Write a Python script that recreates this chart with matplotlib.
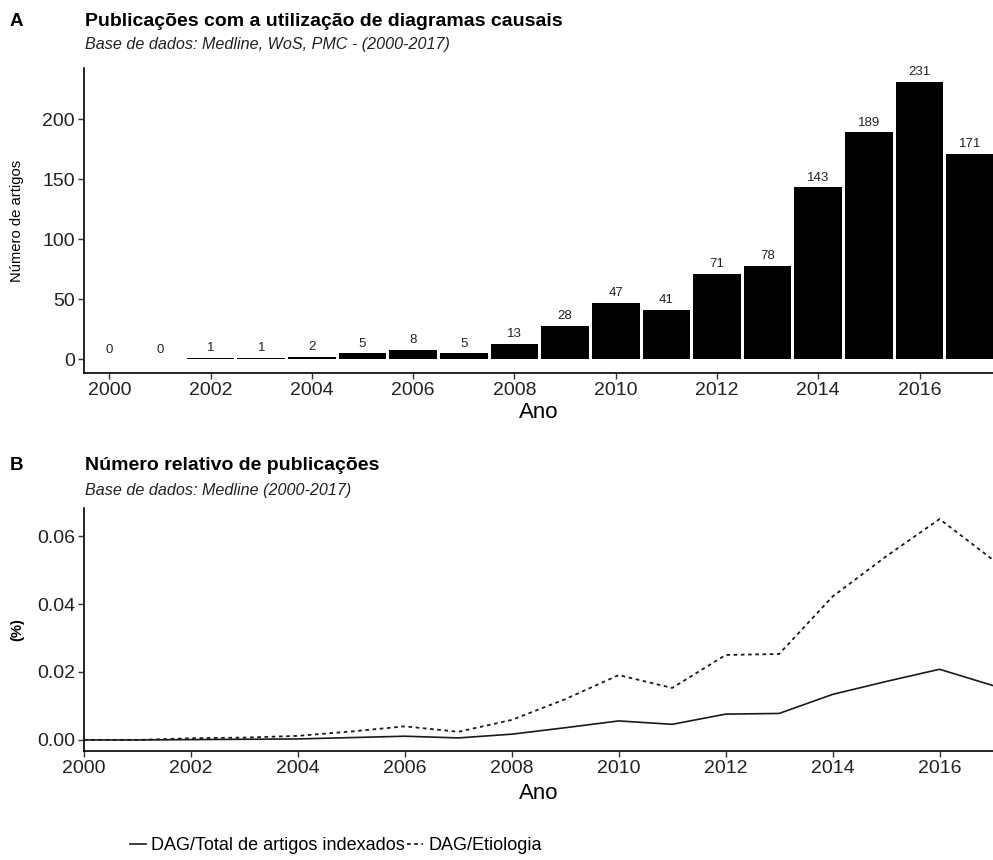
import matplotlib.pyplot as plt

plt.rcParams["font.family"] = ["Liberation Sans", "DejaVu Sans"]

anos = list(range(2000, 2018))
artigos = [0, 0, 1, 1, 2, 5, 8, 5, 13, 28, 47, 41, 71, 78, 143, 189, 231, 171]

# proporções relativas (Medline)
dag_total = [0.0, 0.0, 0.0001, 0.0002, 0.0003, 0.0007, 0.0011, 0.0006, 0.0017,
             0.0036, 0.0056, 0.0046, 0.0076, 0.0078, 0.0134, 0.0172, 0.0208, 0.0160]
dag_etiologia = [0.0, 0.0, 0.0005, 0.0007, 0.0012, 0.0025, 0.0040, 0.0024, 0.0059,
                 0.0120, 0.0191, 0.0153, 0.0250, 0.0253, 0.0422, 0.0540, 0.0650, 0.0530]

W, H = 993, 860
fig = plt.figure(figsize=(W / 100, H / 100), dpi=100)


def box(left, top, right, bottom):
    return [left / W, 1 - bottom / H, (right - left) / W, (bottom - top) / H]


def estilo(ax):
    for s in ("top", "right"):
        ax.spines[s].set_visible(False)
    for s in ("left", "bottom"):
        ax.spines[s].set_linewidth(1.2)
        ax.spines[s].set_color("black")
    ax.tick_params(axis="both", length=4, width=1.0, color="#333333",
                   labelsize=14, labelcolor="#222222", pad=2.5)
    ax.yaxis.set_label_coords(-0.066, 0.5)


# ---- A: barras
ax1 = fig.add_axes(box(84, 68, 993, 373))
ax1.bar(anos, artigos, width=0.94, color="black", linewidth=0)
for a, n in zip(anos, artigos):
    ax1.annotate(str(n), (a, n), xytext=(0, 2.5), textcoords="offset points",
                 ha="center", va="bottom", fontsize=9.5, color="#222222")
ax1.set_xlim(1999.5, 2017.45)
ax1.set_ylim(-11.55, 242.55)
ax1.set_xticks(range(2000, 2017, 2))
ax1.set_yticks([0, 50, 100, 150, 200])
ax1.set_xlabel("Ano", fontsize=16, labelpad=2)
ax1.set_ylabel("Número de artigos", fontsize=10.6)
estilo(ax1)

fig.text(10 / W, 1 - 22 / H, "A", fontsize=13.5, fontweight="bold", va="center")
fig.text(85 / W, 1 - 22 / H, "Publicações com a utilização de diagramas causais",
         fontsize=14, fontweight="bold", va="center")
fig.text(85 / W, 1 - 44 / H, "Base de dados: Medline, WoS, PMC - (2000-2017)",
         fontsize=11.6, style="italic", va="center", color="#222222")

# ---- B: linhas
ax2 = fig.add_axes(box(84, 508, 993, 751))
ax2.plot(anos, dag_total, color="#1a1a1a", lw=1.2, label="DAG/Total de artigos indexados")
ax2.plot(anos, dag_etiologia, color="#1a1a1a", lw=1.3, ls=(0, (2, 2)),
         label="DAG/Etiologia")
ax2.set_xlim(2000, 2017)
ax2.set_ylim(-0.00325, 0.06825)
ax2.set_xticks(range(2000, 2017, 2))
ax2.set_yticks([0, 0.02, 0.04, 0.06])
ax2.set_yticklabels(["0.00", "0.02", "0.04", "0.06"])
ax2.set_xlabel("Ano", fontsize=16, labelpad=4)
ax2.set_ylabel("(%)", fontsize=10.6, fontweight="bold")
estilo(ax2)

fig.text(10 / W, 1 - 466 / H, "B", fontsize=13.5, fontweight="bold", va="center")
fig.text(85 / W, 1 - 466 / H, "Número relativo de publicações",
         fontsize=14, fontweight="bold", va="center")
fig.text(85 / W, 1 - 490 / H, "Base de dados: Medline (2000-2017)",
         fontsize=11.6, style="italic", va="center", color="#222222")

fig.legend(loc="center", bbox_to_anchor=(336 / W, 1 - 846 / H), ncol=2, frameon=False,
           fontsize=13, handlelength=0.9, handletextpad=0.3, columnspacing=0.1)

fig.savefig("out.png", dpi=100)
